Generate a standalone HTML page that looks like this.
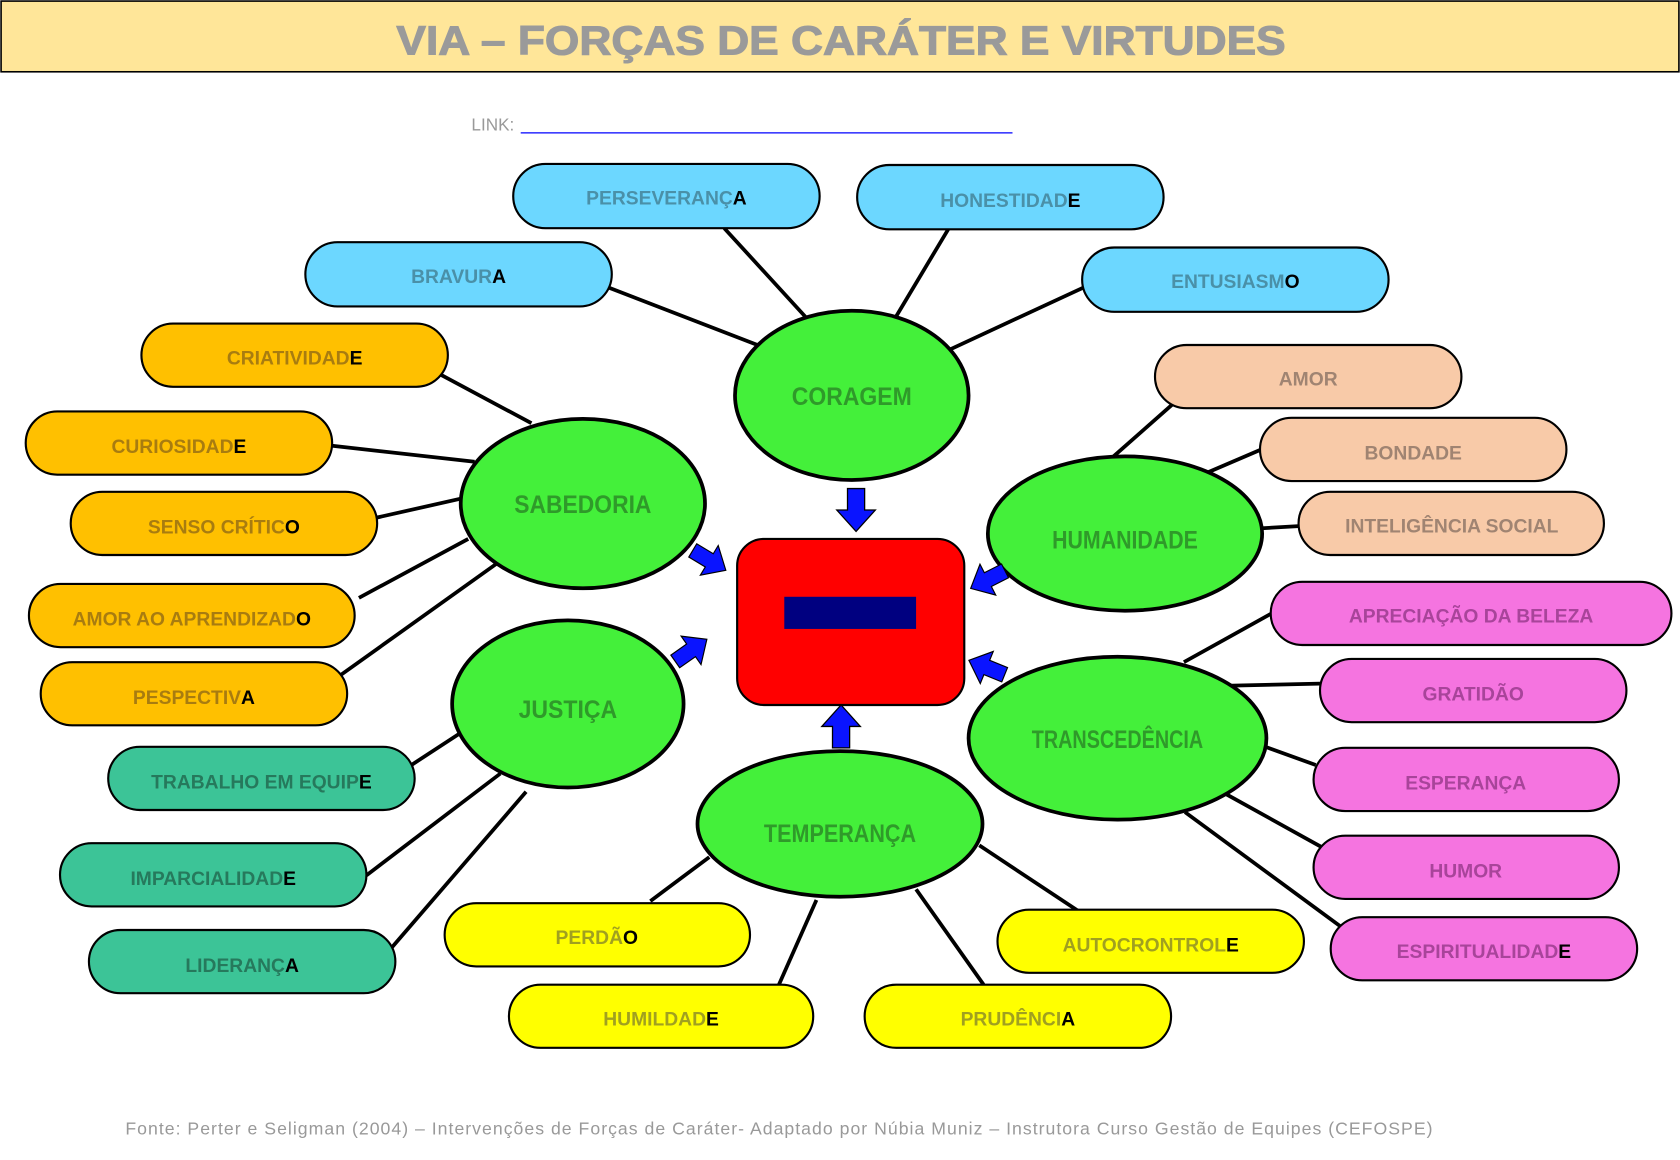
<!DOCTYPE html>
<html><head><meta charset="utf-8"><style>
html,body{margin:0;padding:0;background:#fff;width:1680px;height:1160px;overflow:hidden}
svg{display:block}
text{font-family:"Liberation Sans",sans-serif;font-weight:bold}
</style></head><body>
<svg width="1680" height="1160" viewBox="0 0 1568 1082.67" xmlns="http://www.w3.org/2000/svg">
<rect x="1" y="1" width="1566" height="66" fill="#ffe699" stroke="#000" stroke-width="1.5"/>
<text x="370" y="51" font-size="38" fill="#9a9a9a" textLength="830" lengthAdjust="spacingAndGlyphs" stroke="#9a9a9a" stroke-width="1">VIA – FORÇAS DE CARÁTER E VIRTUDES</text>
<text x="440" y="122" font-size="16" fill="#999" style="font-weight:normal">LINK:</text>
<line x1="486" y1="124" x2="945" y2="124" stroke="#00f" stroke-width="1.2"/>
<g stroke="#000" stroke-width="3.5">
<line x1="676" y1="213" x2="752" y2="296"/><line x1="885" y1="214" x2="836" y2="296"/>
<line x1="567" y1="268" x2="707" y2="322"/><line x1="1012" y1="268" x2="887" y2="326"/>
<line x1="410" y1="349" x2="496" y2="395"/><line x1="310" y1="416" x2="443" y2="431"/>
<line x1="352" y1="483" x2="432" y2="465"/><line x1="335" y1="558" x2="437" y2="503"/>
<line x1="318" y1="630" x2="465" y2="525"/>
<line x1="384" y1="714" x2="430" y2="684"/><line x1="342" y1="817" x2="467" y2="722"/>
<line x1="366" y1="884" x2="491" y2="739"/>
<line x1="607" y1="841" x2="662" y2="800"/><line x1="727" y1="919" x2="762" y2="840"/>
<line x1="918" y1="919" x2="855" y2="830"/><line x1="1006" y1="850" x2="914" y2="789"/>
<line x1="1097" y1="375" x2="1037" y2="428"/><line x1="1176" y1="420" x2="1127" y2="441"/>
<line x1="1212" y1="491" x2="1178" y2="493"/>
<line x1="1186" y1="573" x2="1105" y2="618"/><line x1="1232" y1="638" x2="1145" y2="640"/>
<line x1="1228" y1="714" x2="1181" y2="697"/><line x1="1236" y1="792" x2="1144" y2="741"/>
<line x1="1253" y1="866" x2="1106" y2="758"/>
</g>
<g stroke="#000" stroke-width="2">
<g fill="#6cd7ff">
<rect x="479" y="153" width="286" height="60" rx="30"/><rect x="800" y="154" width="286" height="60" rx="30"/>
<rect x="285" y="226" width="286" height="60" rx="30"/><rect x="1010" y="231" width="286" height="60" rx="30"/></g>
<g fill="#ffc000">
<rect x="132" y="302" width="286" height="59" rx="29.5"/><rect x="24" y="384" width="286" height="59" rx="29.5"/>
<rect x="66" y="459" width="286" height="59" rx="29.5"/><rect x="27" y="545" width="304" height="59" rx="29.5"/>
<rect x="38" y="618" width="286" height="59" rx="29.5"/></g>
<g fill="#3cc497">
<rect x="101" y="697" width="286" height="59" rx="29.5"/><rect x="56" y="787" width="286" height="59" rx="29.5"/>
<rect x="83" y="868" width="286" height="59" rx="29.5"/></g>
<g fill="#ffff00">
<rect x="415" y="843" width="285" height="59" rx="29.5"/><rect x="475" y="919" width="284" height="59" rx="29.5"/>
<rect x="807" y="919" width="286" height="59" rx="29.5"/><rect x="931" y="849" width="286" height="59" rx="29.5"/></g>
<g fill="#f8caa8">
<rect x="1078" y="322" width="286" height="59" rx="29.5"/><rect x="1176" y="390" width="286" height="59" rx="29.5"/>
<rect x="1212" y="459" width="285" height="59" rx="29.5"/></g>
<g fill="#f574e0">
<rect x="1186" y="543" width="374" height="59" rx="29.5"/><rect x="1232" y="615" width="286" height="59" rx="29.5"/>
<rect x="1226" y="698" width="285" height="59" rx="29.5"/><rect x="1226" y="780" width="285" height="59" rx="29.5"/>
<rect x="1242" y="856" width="286" height="59" rx="29.5"/></g>
</g>
<g fill="#44f03a" stroke="#000" stroke-width="3.5">
<ellipse cx="795" cy="369" rx="109" ry="79"/><ellipse cx="544" cy="470" rx="114" ry="79"/>
<ellipse cx="1050" cy="498" rx="128" ry="72"/><ellipse cx="530" cy="657" rx="108" ry="78"/>
<ellipse cx="784" cy="769" rx="133" ry="68"/><ellipse cx="1043" cy="689" rx="139" ry="76"/>
</g>
<g font-size="23" fill="#2f9a2a" text-anchor="middle">
<text x="795" y="378" textLength="112" lengthAdjust="spacingAndGlyphs">CORAGEM</text>
<text x="544" y="479" textLength="128" lengthAdjust="spacingAndGlyphs">SABEDORIA</text>
<text x="1050" y="512" textLength="136" lengthAdjust="spacingAndGlyphs">HUMANIDADE</text>
<text x="530" y="670" textLength="92" lengthAdjust="spacingAndGlyphs">JUSTIÇA</text>
<text x="784" y="786" textLength="142" lengthAdjust="spacingAndGlyphs">TEMPERANÇA</text>
<text x="1043" y="698" textLength="160" lengthAdjust="spacingAndGlyphs">TRANSCEDÊNCIA</text>
</g>
<rect x="688" y="503" width="212" height="155" rx="25" fill="#f00" stroke="#000" stroke-width="2"/>
<rect x="732" y="557" width="123" height="30" fill="#000080"/>
<g fill="#0a14ff" stroke="#000" stroke-width="1.2">
<polygon points="-8,-20 8,-20 8,0 18,0 0,20 -18,0 -8,0" transform="translate(799,476)"/>
<polygon points="-8,-20 8,-20 8,0 18,0 0,20 -18,0 -8,0" transform="translate(785,678) rotate(180)"/>
<polygon points="-8,-20 8,-20 8,0 18,0 0,20 -18,0 -8,0" transform="translate(662,523) rotate(-59) scale(0.9)"/>
<polygon points="-8,-20 8,-20 8,0 18,0 0,20 -18,0 -8,0" transform="translate(645,607) rotate(-125) scale(0.9)"/>
<polygon points="-8,-20 8,-20 8,0 18,0 0,20 -18,0 -8,0" transform="translate(922,541) rotate(63) scale(0.9)"/>
<polygon points="-8,-20 8,-20 8,0 18,0 0,20 -18,0 -8,0" transform="translate(921,623) rotate(112) scale(0.9)"/>
</g>
<g font-size="18" text-anchor="middle">
<g fill="#4a90a8">
<text x="622" y="191">PERSEVERANÇ<tspan fill="#000">A</tspan></text>
<text x="943" y="193">HONESTIDAD<tspan fill="#000">E</tspan></text>
<text x="428" y="264">BRAVUR<tspan fill="#000">A</tspan></text>
<text x="1153" y="269">ENTUSIASM<tspan fill="#000">O</tspan></text></g>
<g fill="#a87c10">
<text x="275" y="340">CRIATIVIDAD<tspan fill="#000">E</tspan></text>
<text x="167" y="423">CURIOSIDAD<tspan fill="#000">E</tspan></text>
<text x="209" y="498">SENSO CRÍTIC<tspan fill="#000">O</tspan></text>
<text x="179" y="584">AMOR AO APRENDIZAD<tspan fill="#000">O</tspan></text>
<text x="181" y="657">PESPECTIV<tspan fill="#000">A</tspan></text></g>
<g fill="#26795c">
<text x="244" y="736">TRABALHO EM EQUIP<tspan fill="#000">E</tspan></text>
<text x="199" y="826">IMPARCIALIDAD<tspan fill="#000">E</tspan></text>
<text x="226" y="907">LIDERANÇ<tspan fill="#000">A</tspan></text></g>
<g fill="#a0a020">
<text x="557" y="881">PERDÃ<tspan fill="#000">O</tspan></text>
<text x="617" y="957">HUMILDAD<tspan fill="#000">E</tspan></text>
<text x="950" y="957">PRUDÊNCI<tspan fill="#000">A</tspan></text>
<text x="1074" y="888">AUTOCRONTROL<tspan fill="#000">E</tspan></text></g>
<g fill="#a08472">
<text x="1221" y="360">AMOR</text>
<text x="1319" y="429">BONDADE</text>
<text x="1355" y="497">INTELIGÊNCIA SOCIAL</text></g>
<g fill="#a8449a">
<text x="1373" y="581">APRECIAÇÃO DA BELEZA</text>
<text x="1375" y="654">GRATIDÃO</text>
<text x="1368" y="737">ESPERANÇA</text>
<text x="1368" y="819">HUMOR</text>
<text x="1385" y="894">ESPIRITUALIDAD<tspan fill="#000">E</tspan></text></g>
</g>
<text x="117" y="1059" font-size="16.5" fill="#999" style="font-weight:normal" textLength="1220" lengthAdjust="spacing">Fonte: Perter e Seligman (2004) – Intervenções de Forças de Caráter- Adaptado por Núbia Muniz –  Instrutora  Curso Gestão de Equipes (CEFOSPE)</text>
</svg>
</body></html>
